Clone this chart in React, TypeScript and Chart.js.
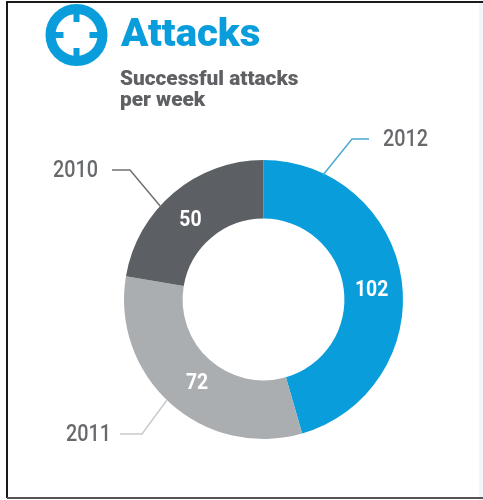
import React, { useEffect, useRef } from "react";
import { Chart, registerables } from "chart.js";

Chart.register(...registerables);

const years = ["2012", "2011", "2010"];
const attacks = [102, 72, 50];
const sliceColors = ["#0a9ddb", "#abaeb1", "#5c5f63"];
const leaderColors = ["#4ba9d2", "#c9cacc", "#6f7073"];
const title = "Attacks";
const subtitleLines = ["Successful attacks", "per week"];

const BLUE = "#0a9ddb";
const GREY_TEXT = "#5f6063";
const FONT = "Roboto, 'Open Sans', sans-serif";

// Each callout: elbowed leader polyline plus where its year label sits.
const callouts = [
  { path: [[323, 175], [352, 139], [369, 139]], x: 383, y: 139, align: "left" },
  { path: [[167, 400], [142, 434], [120, 434]], x: 111, y: 434, align: "right" },
  { path: [[161, 207], [130, 170], [112, 170]], x: 98, y: 170, align: "right" },
];

// Small shifts of the value labels away from the exact slice centres.
const valueOffsets = [
  [-1, 6],
  [7, 2],
  [-2, 5],
];

// Writes text squeezed horizontally, since the installed faces run wider than the lettering here.
function narrowText(ctx: CanvasRenderingContext2D, text: string, x: number, y: number, sx: number) {
  ctx.save();
  ctx.translate(x, y);
  ctx.scale(sx, 1);
  ctx.fillText(text, 0, 0);
  ctx.restore();
}

const decorations = {
  id: "decorations",
  afterDraw(chart: Chart) {
    const ctx = chart.ctx;
    ctx.save();

    // Pale strip along the right edge
    ctx.fillStyle = "#f3f5f8";
    ctx.fillRect(479, 3, 4, 497);

    // Crosshair emblem beside the heading
    const cx = 76.5;
    const cy = 35;
    ctx.strokeStyle = BLUE;
    ctx.lineWidth = 10;
    ctx.beginPath();
    ctx.arc(cx, cy, 26, 0, Math.PI * 2);
    ctx.stroke();
    ctx.lineWidth = 6;
    for (const [dx, dy] of [[0, -1], [1, 0], [0, 1], [-1, 0]]) {
      ctx.beginPath();
      ctx.moveTo(cx + dx * 24, cy + dy * 24);
      ctx.lineTo(cx + dx * 13, cy + dy * 13);
      ctx.stroke();
    }

    // Heading and subheading
    ctx.textAlign = "left";
    ctx.textBaseline = "alphabetic";
    ctx.fillStyle = BLUE;
    ctx.font = `900 39px ${FONT}`;
    narrowText(ctx, title, 121, 46, 1.03);
    ctx.fillStyle = GREY_TEXT;
    ctx.font = `900 21px ${FONT}`;
    subtitleLines.forEach((line, i) => narrowText(ctx, line, 120, 85 + i * 21, 0.99));

    // Leader lines and year labels
    ctx.font = `500 23px ${FONT}`;
    ctx.textBaseline = "middle";
    callouts.forEach((c, i) => {
      ctx.strokeStyle = leaderColors[i];
      ctx.lineWidth = 1.5;
      ctx.beginPath();
      c.path.forEach(([x, y], k) => (k ? ctx.lineTo(x, y) : ctx.moveTo(x, y)));
      ctx.stroke();
      ctx.fillStyle = "#68696c";
      ctx.textAlign = c.align as CanvasTextAlign;
      narrowText(ctx, years[i], c.x, c.y + 1, 0.86);
    });

    // Values centred on their slices
    ctx.font = `700 22px ${FONT}`;
    ctx.fillStyle = "#ffffff";
    ctx.textAlign = "center";
    chart.getDatasetMeta(0).data.forEach((arc, i) => {
      const p = arc.tooltipPosition(false);
      narrowText(ctx, String(attacks[i]), p.x + valueOffsets[i][0], p.y + valueOffsets[i][1], 0.88);
    });

    // Page frame: top, left and bottom rules only
    ctx.strokeStyle = "#1a1a1a";
    ctx.lineWidth = 2;
    ctx.beginPath();
    ctx.moveTo(483, 2);
    ctx.lineTo(7, 2);
    ctx.lineTo(7, 498);
    ctx.stroke();
    ctx.strokeStyle = "#555555";
    ctx.beginPath();
    ctx.moveTo(7, 498);
    ctx.lineTo(483, 498);
    ctx.stroke();
    ctx.restore();
  },
};

export default function App() {
  const ref = useRef<HTMLCanvasElement>(null);
  useEffect(() => {
    const chart = new Chart(ref.current!, {
      type: "doughnut",
      data: {
        labels: years,
        datasets: [
          {
            data: attacks,
            backgroundColor: sliceColors,
            borderWidth: 0,
          },
        ],
      },
      options: {
        responsive: false,
        animation: false,
        cutout: "58%",
        layout: { padding: { left: 124, right: 80, top: 160, bottom: 61 } },
        plugins: { legend: { display: false }, tooltip: { enabled: false } },
      },
      plugins: [decorations],
    });
    return () => chart.destroy();
  }, []);
  return (
    <div style={{ position: "absolute", left: 0, top: 0 }}>
      <canvas ref={ref} width={483} height={500} style={{ display: "block" }} />
    </div>
  );
}
